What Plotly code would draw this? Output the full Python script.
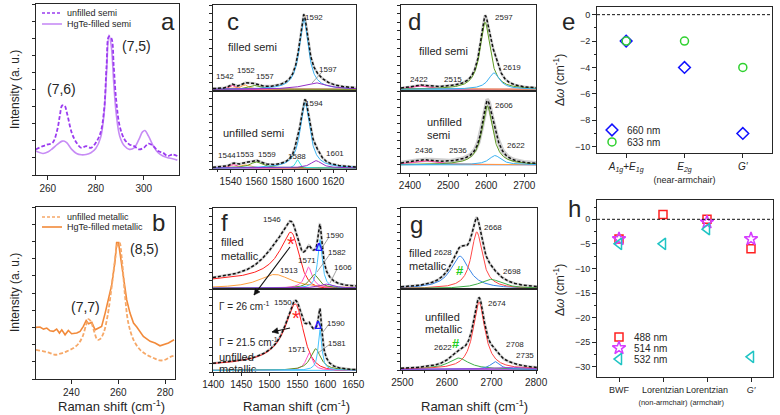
import numpy as np
import plotly.graph_objects as go

W, H = 780, 415
FONT = "Liberation Sans, Arial, sans-serif"
INK = "#262626"

# ---------------- DATA ----------------
# (a) RBM spectra, semiconducting
a_unfilled_x = [255, 258, 260, 262, 264, 265, 266, 267, 268, 270, 272, 274, 276, 278, 280, 282, 283.5, 284.5,
                285.5, 286.5, 287.5, 288.5, 290, 292, 294, 296, 298, 300, 302, 304, 306, 308, 310, 312, 314]
a_unfilled_y = [0.150, 0.169, 0.179, 0.188, 0.266, 0.344, 0.406, 0.406, 0.363, 0.247, 0.188, 0.159, 0.169, 0.159,
                0.188, 0.247, 0.383, 0.635, 0.810, 0.800, 0.635, 0.441, 0.285, 0.208, 0.179, 0.169, 0.150, 0.159,
                0.184, 0.169, 0.140, 0.130, 0.111, 0.120, 0.111]
a_filled_x = [255, 258, 260, 262, 264, 266, 267, 268, 270, 272, 274, 276, 278, 280, 282, 283.5, 284.5, 285.5,
              286.5, 287.5, 288.5, 290, 292, 294, 296, 298, 299.5, 300.5, 302, 304, 306, 308, 310, 312, 314]
a_filled_y = [0.140, 0.126, 0.134, 0.155, 0.179, 0.198, 0.198, 0.188, 0.150, 0.126, 0.118, 0.120, 0.130, 0.155,
              0.217, 0.363, 0.596, 0.819, 0.751, 0.538, 0.363, 0.227, 0.169, 0.150, 0.159, 0.208, 0.252, 0.260,
              0.227, 0.169, 0.130, 0.111, 0.101, 0.095, 0.087]

# (b) RBM spectra, metallic
b_filled_x = [224.9, 226.6, 228.1, 229.5, 230.9, 232.3, 233.7, 234.9, 235.9, 237.3, 238.7, 240.1, 242.3, 243.7,
              245.1, 246.3, 247.3, 248.7, 250.1, 251.5, 252.9, 254.4, 255.8, 257.2, 258.6, 259.3, 260.1, 261.1,
              262.2, 263.6, 265.0, 266.5, 267.9, 270.7, 273.6, 275.7, 277.8, 279.3, 281.4, 283.8]
b_filled_y = [0.300, 0.302, 0.290, 0.296, 0.280, 0.277, 0.290, 0.267, 0.286, 0.257, 0.282, 0.263, 0.267, 0.277,
              0.306, 0.340, 0.321, 0.329, 0.286, 0.296, 0.306, 0.383, 0.460, 0.547, 0.683, 0.793, 0.793, 0.702,
              0.576, 0.460, 0.383, 0.325, 0.302, 0.248, 0.219, 0.209, 0.193, 0.199, 0.209, 0.228]
b_unfilled_x = [224.9, 228.1, 230.9, 233.0, 235.2, 238.0, 240.9, 243.0, 244.8, 246.3, 247.3, 248.3, 249.7, 251.1,
                252.2, 253.7, 255.4, 257.2, 258.6, 259.6, 260.5, 261.5, 262.9, 264.3, 266.5, 269.3, 272.1, 275.0,
                277.8, 280.0, 282.1, 283.8]
b_unfilled_y = [0.170, 0.161, 0.151, 0.141, 0.147, 0.161, 0.180, 0.205, 0.248, 0.315, 0.348, 0.335, 0.277, 0.228,
                0.232, 0.267, 0.364, 0.538, 0.692, 0.780, 0.793, 0.702, 0.480, 0.325, 0.228, 0.170, 0.141, 0.122,
                0.108, 0.112, 0.128, 0.135]

# (c) G band, semiconducting: Lorentzian components (centre, FWHM, height)
c_filled_center = [1541, 1551, 1558, 1597, 1606]
c_filled_fwhm = [5, 7, 10, 8.5, 22]
c_filled_height = [0.045, 0.05, 0.045, 0.82, 0.075]
c_filled_labels = ["1542", "1552", "1557", "1592", "1597"]
c_unfilled_center = [1542, 1551, 1560, 1592, 1598, 1606.5]
c_unfilled_fwhm = [6, 8, 12, 3.5, 9, 10]
c_unfilled_height = [0.043, 0.04, 0.077, 0.107, 0.84, 0.094]
c_unfilled_labels = ["1544", "1553", "1559", "1588", "1594", "1601"]

# (d) G' band, semiconducting
d_filled_center = [2424.5, 2515, 2597, 2620.5]
d_filled_fwhm = [50, 100, 32, 36]
d_filled_height = [0.04, 0.012, 0.78, 0.19]
d_filled_labels = ["2422", "2515", "2597", "2619"]
d_unfilled_center = [2435, 2536, 2603, 2623]
d_unfilled_fwhm = [80, 100, 34, 38]
d_unfilled_height = [0.05, 0.015, 0.72, 0.113]
d_unfilled_labels = ["2436", "2536", "2606", "2622"]

# (e) shifts, semiconducting
e_modes = ["<i>A</i><sub><i>1g</i></sub>+<i>E</i><sub><i>1g</i></sub>",
           "<i>E</i><sub><i>2g</i></sub><br><span style='font-size:9px'>(near-armchair)</span>",
           "<i>G\u2032</i>"]
e_660 = [-2, -4, -9]
e_633 = [-2, -2, -4]

# (f) G band, metallic: BWF (centre, Gamma, q, I0) + Lorentzians
f_filled_bwf = [1543.9, 20.5, -3.5, 0.64]
f_filled_center = [1510, 1570, 1580, 1590.5, 1602]
f_filled_fwhm = [70, 16, 20, 10, 30]
f_filled_height = [0.17, 0.26, 0.17, 0.60, 0.05]
f_filled_labels = ["1513", "1571", "1582", "1590", "1606"]
f_unfilled_bwf = [1550, 20, -5, 0.77]
f_unfilled_center = [1571, 1582.7, 1590.5]
f_unfilled_fwhm = [14, 22, 8]
f_unfilled_height = [0.21, 0.26, 0.49]
f_unfilled_labels = ["1571", "1581", "1590"]

# (g) G' band, metallic
g_filled_center = [2629, 2667, 2698]
g_filled_fwhm = [50, 30, 60]
g_filled_height = [0.40, 0.70, 0.115]
g_filled_labels = ["2628", "2668", "2698"]
g_unfilled_center = [2626, 2672, 2708, 2735]
g_unfilled_fwhm = [55, 32, 25, 70]
g_unfilled_height = [0.14, 0.83, 0.095, 0.03]
g_unfilled_labels = ["2622", "2674", "2708", "2735"]

# (h) shifts, metallic
h_modes = ["BWF",
           "Lorentzian<br><span style='font-size:7.5px'>(non-armchair)</span>",
           "Lorentzian<br><span style='font-size:7.5px'>(armchair)</span>",
           "<i>G\u2032</i>"]
h_488 = [-4, 1, 0, -6]
h_514 = [-4, None, -0.6, -4]
h_532 = [-5, -5, -2, -28]

# ---------------- helpers ----------------
def lorentz(x, c, fwhm, h):
    return h / (1.0 + ((x - c) / (fwhm / 2.0)) ** 2)


def bwf(x, c, gamma, q, i0):
    s = (x - c) / gamma
    return i0 * (1 + s / q) ** 2 / (1 + s ** 2)


def xdom(p0, p1):
    return [p0 / W, p1 / W]


def ydom(p0, p1):
    return [1 - p1 / H, 1 - p0 / H]


fig = go.Figure()
layout = dict(template="none", width=W, height=H, autosize=False,
              margin=dict(l=0, r=0, t=0, b=0, pad=0, autoexpand=False), paper_bgcolor="white",
              plot_bgcolor="white", showlegend=False, font=dict(family=FONT, color=INK))
annotations = []
shapes = []


def axname(i, k):
    return f"{k}axis" if i == 1 else f"{k}axis{i}"


def ref(i, k):
    return k if i == 1 else f"{k}{i}"


def set_axes(i, xd, yd, xr, yr, xkw=None, ykw=None):
    base = dict(showline=True, linecolor=INK, linewidth=1, mirror=True, showgrid=False, zeroline=False,
                ticks="outside", ticklen=3, tickcolor=INK, tickwidth=1, automargin=False,
                tickfont=dict(size=10, family=FONT, color=INK))
    xa = dict(base, domain=xd, range=xr, anchor=ref(i, "y"), tickangle=0)
    ya = dict(base, domain=yd, range=yr, anchor=ref(i, "x"))
    if xkw:
        xa.update(xkw)
    if ykw:
        ya.update(ykw)
    layout[axname(i, "x")] = xa
    layout[axname(i, "y")] = ya


def txt(x, y, text, size=8, color=INK, xanchor="center", **kw):
    d = dict(x=x / W, y=1 - y / H, xref="paper", yref="paper", text=text, showarrow=False,
             font=dict(size=size, color=color, family=FONT), xanchor=xanchor, yanchor="middle")
    d.update(kw)
    annotations.append(d)


def seg(x0, y0, x1, y1, color="#8a8a8a", width=0.8, dash="solid"):
    shapes.append(dict(type="line", xref="paper", yref="paper", x0=x0 / W, y0=1 - y0 / H, x1=x1 / W,
                       y1=1 - y1 / H, line=dict(color=color, width=width, dash=dash)))


def arrow(hx, hy, tx, ty):
    shapes.append(dict(type="line", xref="paper", yref="paper", x0=tx / W, y0=1 - ty / H, x1=hx / W,
                       y1=1 - hy / H, line=dict(color="#111111", width=1.1)))
    v = np.array([hx - tx, hy - ty], dtype=float)
    v /= np.hypot(*v)
    n = np.array([-v[1], v[0]])
    p1 = np.array([hx, hy]) - 6 * v + 3 * n
    p2 = np.array([hx, hy]) - 6 * v - 3 * n
    path = (f"M {hx / W},{1 - hy / H} L {p1[0] / W},{1 - p1[1] / H} "
            f"L {p2[0] / W},{1 - p2[1] / H} Z")
    shapes.append(dict(type="path", xref="paper", yref="paper", path=path, fillcolor="#111111",
                       line=dict(color="#111111", width=0.5)))


def add_line(i, x, y, color, width=1.2, dash="solid", shape="linear"):
    fig.add_trace(go.Scatter(x=x, y=y, mode="lines", xaxis=ref(i, "x"), yaxis=ref(i, "y"),
                             line=dict(color=color, width=width, dash=dash, shape=shape),
                             hoverinfo="skip"))


def fitted_half(i, xr, base, centers, fwhms, heights, colors, bwf_par=None, bwf_color=None, gray_w=2.6):
    grid = np.linspace(xr[0], xr[1], 700)
    comps = []
    if bwf_par is not None:
        comps.append((bwf(grid, *bwf_par), bwf_color))
    for c, w, h, col in zip(centers, fwhms, heights, colors):
        comps.append((lorentz(grid, c, w, h), col))
    total = base + sum(cp for cp, _ in comps)
    add_line(i, grid, total, "#cfcfcf", width=gray_w)
    add_line(i, grid, np.full_like(grid, base), colors[-1], width=1.0)
    for cp, col in comps:
        add_line(i, grid, base + cp, col, width=1.0)
    add_line(i, grid, total, "#111111", width=1.5, dash="3px,2px")


PINK, ORANGE, GREEN, BLUE, PURPLE, CYAN = "#ff3d9a", "#ffa040", "#5e9a22", "#3bb2f2", "#9530c8", "#2ee0e0"

# ---------------- panel a ----------------
set_axes(1, xdom(36, 179), ydom(4, 175), [255.1, 314.7], [0, 1],
         xkw=dict(tickvals=[260, 280, 300], ticklen=4),
         ykw=dict(showticklabels=False, dtick=0.1))
add_line(1, a_filled_x, a_filled_y, "#c78cf5", width=1.6, shape="spline")
add_line(1, a_unfilled_x, a_unfilled_y, "#9b3cf0", width=1.8, dash="4px,2px", shape="spline")
txt(62, 89, "(7,6)", size=14)
txt(136, 46, "(7,5)", size=14)
txt(168, 21, "a", size=24)
seg(42, 13, 62, 13, color="#9b3cf0", width=1.6, dash="3px,2px")
seg(42, 24, 62, 24, color="#c78cf5", width=1.6)
txt(65, 13, "unfilled semi", size=9, xanchor="left")
txt(65, 24, "HgTe-filled semi", size=9, xanchor="left")

# ---------------- panel b ----------------
set_axes(2, xdom(36, 175), ydom(207, 379), [224.9, 284.2], [0, 1],
         xkw=dict(tickvals=[240, 260, 280], ticklen=4),
         ykw=dict(showticklabels=False, dtick=0.1))
add_line(2, b_filled_x, b_filled_y, "#f28a3a", width=1.6)
add_line(2, b_unfilled_x, b_unfilled_y, "#f6a868", width=1.8, dash="4px,2px", shape="spline")
txt(85, 307, "(7,7)", size=14)
txt(144, 249, "(8,5)", size=14)
txt(158, 222, "b", size=24)
seg(42, 217, 62, 217, color="#f6a868", width=1.6, dash="3px,2px")
seg(42, 227, 62, 227, color="#f28a3a", width=1.6)
txt(65, 217, "unfilled metallic", size=9, xanchor="left")
txt(65, 227, "HgTe-filled metallic", size=9, xanchor="left")
txt(15, 90, "Intensity (a. u.)", size=12, textangle=-90)
txt(15, 293, "Intensity (a. u.)", size=12, textangle=-90)
txt(112, 406, "Raman shift (cm<sup>-1</sup>)", size=13)

# ---------------- panel c ----------------
c_xr = [1526.2, 1637.7]
hide_x = dict(showticklabels=False, ticks="")
half_y = dict(showticklabels=False, dtick=0.1)
set_axes(3, xdom(213, 356), ydom(5, 91), c_xr, [0, 1], xkw=hide_x, ykw=half_y)
set_axes(4, xdom(213, 356), ydom(91, 169), c_xr, [0, 1],
         xkw=dict(tickvals=[1540, 1560, 1580, 1600, 1620], minor=dict(dtick=10, ticklen=2, ticks="outside")),
         ykw=half_y)
fitted_half(3, c_xr, 0.02, c_filled_center, c_filled_fwhm, c_filled_height,
            [PINK, ORANGE, GREEN, BLUE, PURPLE])
fitted_half(4, c_xr, 0.013, c_unfilled_center, c_unfilled_fwhm, c_unfilled_height,
            [PINK, ORANGE, GREEN, CYAN, BLUE, PURPLE])
for lab, (px, py) in zip(c_filled_labels, [(225, 77), (246, 70), (265, 76), (314, 17), (328, 69)]):
    txt(px, py, lab)
for lab, (px, py) in zip(c_unfilled_labels, [(227, 155), (245, 154), (267, 154), (297, 156), (314, 103), (335, 153)]):
    txt(px, py, lab)
seg(322, 72, 312, 83)
txt(252, 47, "filled semi", size=11)
txt(253, 133, "unfilled semi", size=11)
txt(233, 22, "c", size=24)

# ---------------- panel d ----------------
d_xr = [2376.4, 2730.7]
set_axes(5, xdom(401, 536), ydom(5, 91), d_xr, [0, 1], xkw=hide_x, ykw=half_y)
set_axes(6, xdom(401, 536), ydom(91, 173), d_xr, [0, 1],
         xkw=dict(tickvals=[2400, 2500, 2600, 2700], minor=dict(dtick=50, ticklen=2, ticks="outside")),
         ykw=half_y)
fitted_half(5, d_xr, 0.02, d_filled_center, d_filled_fwhm, d_filled_height, [PINK, ORANGE, GREEN, BLUE])
fitted_half(6, d_xr, 0.10, d_unfilled_center, d_unfilled_fwhm, d_unfilled_height, [PINK, ORANGE, GREEN, BLUE],
            gray_w=4.5)
for lab, (px, py) in zip(d_filled_labels, [(419, 79), (453, 79), (504, 17), (512, 67)]):
    txt(px, py, lab)
for lab, (px, py) in zip(d_unfilled_labels, [(424, 150), (458, 150), (504, 105), (516, 145)]):
    txt(px, py, lab)
txt(443, 51, "filled semi", size=11)
txt(425, 122, "unfilled", size=11, xanchor="left")
txt(425, 135, "semi", size=11, xanchor="left")
txt(414, 22, "d", size=24)

# ---------------- panel e ----------------
set_axes(7, xdom(597, 772), ydom(7, 153), [-0.5, 2.5], [-10.48, 0.58],
         xkw=dict(tickvals=list(range(len(e_modes))), ticktext=e_modes, ticklen=4,
                  tickfont=dict(size=10, family=FONT, color=INK)),
         ykw=dict(tickvals=[0, -2, -4, -6, -8, -10], ticklen=4, tickfont=dict(size=9, family=FONT, color=INK),
                  minor=dict(dtick=1, ticklen=2, ticks="outside")))
shapes.append(dict(type="line", xref="x7 domain", yref="y7", x0=0, x1=1, y0=0, y1=0,
                   line=dict(color="#111111", width=1, dash="3px,2px")))
e_x = list(range(len(e_modes)))
fig.add_trace(go.Scatter(x=e_x, y=e_660, mode="markers", xaxis="x7", yaxis="y7",
                         marker=dict(symbol="diamond-open", size=9, color="#1010ff", line=dict(width=1.5))))
fig.add_trace(go.Scatter(x=e_x, y=e_633, mode="markers", xaxis="x7", yaxis="y7",
                         marker=dict(symbol="circle-open", size=8, color="#2fd12f", line=dict(width=1.5))))
fig.add_trace(go.Scatter(x=[-0.243], y=[-8.74], mode="markers", xaxis="x7", yaxis="y7",
                         marker=dict(symbol="diamond-open", size=9, color="#1010ff", line=dict(width=1.5))))
fig.add_trace(go.Scatter(x=[-0.243], y=[-9.64], mode="markers", xaxis="x7", yaxis="y7",
                         marker=dict(symbol="circle-open", size=8, color="#2fd12f", line=dict(width=1.5))))
txt(625, 130, "660 nm", size=10, xanchor="left")
txt(625, 142, "633 nm", size=10, xanchor="left")
txt(559, 80, "\u0394<i>\u03c9</i> (cm<sup>-1</sup>)", size=12, textangle=-90)
txt(568, 21, "e", size=24)

# ---------------- panel f ----------------
f_xr = [1399.5, 1654.8]
set_axes(8, xdom(213, 356), ydom(208, 289), f_xr, [0, 1], xkw=hide_x, ykw=half_y)
set_axes(9, xdom(213, 356), ydom(289, 372), f_xr, [0, 1],
         xkw=dict(tickvals=[1400, 1450, 1500, 1550, 1600, 1650]), ykw=half_y)
fitted_half(8, f_xr, 0.01, f_filled_center, f_filled_fwhm, f_filled_height,
            [ORANGE, "#ff55c8", "#5f8f20", "#45c4ff", PURPLE], bwf_par=f_filled_bwf, bwf_color="#ff2020")
fitted_half(9, f_xr, 0.02, f_unfilled_center, f_unfilled_fwhm, f_unfilled_height,
            ["#ff55c8", "#5f8f20", "#45c4ff"], bwf_par=f_unfilled_bwf, bwf_color="#ff2020")
for lab, (px, py) in zip(f_filled_labels, [(289, 270), (307, 260), (337, 252), (335, 235), (343, 267)]):
    txt(px, py, lab)
txt(272, 219, "1546")
for lab, (px, py) in zip(f_unfilled_labels, [(297, 349), (337, 343), (336, 323)]):
    txt(px, py, lab)
txt(283, 302, "1550")
seg(329, 237, 322, 248)
seg(330, 254, 317, 272)
seg(337, 269, 330, 283)
seg(329, 324, 323, 332)
seg(330, 344, 318, 353)
txt(219, 242, "filled", size=11, xanchor="left")
txt(219, 256, "metallic", size=11, xanchor="left")
txt(217, 357, "unfilled", size=11, xanchor="left")
txt(217, 369, "metallic", size=11, xanchor="left")
txt(217, 306, "\u0393 = 26 cm<sup>-1</sup>", size=10, xanchor="left")
txt(217, 342, "\u0393 = 21.5 cm<sup>-1</sup>", size=10, xanchor="left")
txt(291, 244, "*", size=20, color="#ff2020")
txt(296, 318, "*", size=20, color="#ff2020")
txt(319, 247, "<b>\u0394</b>", size=11, color="#1a1aff")
txt(318, 325, "<b>\u0394</b>", size=11, color="#1a1aff")
arrow(254, 295, 290, 247)
arrow(272, 332, 290, 328)
txt(225, 222, "f", size=24)
txt(296, 406, "Raman shift (cm<sup>-1</sup>)", size=13)

# ---------------- panel g ----------------
g_xr = [2497, 2802]
set_axes(10, xdom(401, 537), ydom(208, 289), g_xr, [0, 1], xkw=hide_x, ykw=half_y)
set_axes(11, xdom(401, 537), ydom(289, 370), g_xr, [0, 1],
         xkw=dict(tickvals=[2500, 2600, 2700, 2800], minor=dict(dtick=50, ticklen=2, ticks="outside")),
         ykw=half_y)
fitted_half(10, g_xr, 0.005, g_filled_center, g_filled_fwhm, g_filled_height, ["#3a86e8", "#ff4848", "#3fb14a"])
fitted_half(11, g_xr, 0.008, g_unfilled_center, g_unfilled_fwhm, g_unfilled_height,
            ["#3fb14a", "#ff4848", "#3a86e8", "#a046d6"])
for lab, (px, py) in zip(g_filled_labels, [(443, 252), (493, 227), (512, 271)]):
    txt(px, py, lab)
for lab, (px, py) in zip(g_unfilled_labels, [(443, 347), (497, 303), (515, 344), (525, 355)]):
    txt(px, py, lab)
txt(407, 253, "filled", size=11, xanchor="left")
txt(407, 266, "metallic", size=11, xanchor="left")
txt(423, 317, "unfilled", size=11, xanchor="left")
txt(423, 329, "metallic", size=11, xanchor="left")
txt(460, 270, "<b>#</b>", size=13, color="#22cc22")
txt(456, 343, "<b>#</b>", size=13, color="#22cc22")
txt(416, 224, "g", size=24)
txt(475, 406, "Raman shift (cm<sup>-1</sup>)", size=13)

# ---------------- panel h ----------------
set_axes(12, xdom(597, 773), ydom(200, 377), [-0.5, 3.5], [-32.1, 3.93],
         xkw=dict(tickvals=list(range(len(h_modes))), ticktext=h_modes, ticklen=4,
                  tickfont=dict(size=9, family=FONT, color=INK)),
         ykw=dict(tickvals=[0, -5, -10, -15, -20, -25, -30], ticklen=4,
                  tickfont=dict(size=9, family=FONT, color=INK),
                  minor=dict(dtick=2.5, ticklen=2, ticks="outside")))
shapes.append(dict(type="line", xref="x12 domain", yref="y12", x0=0, x1=1, y0=0, y1=0,
                   line=dict(color="#111111", width=1, dash="3px,2px")))
h_x = list(range(len(h_modes)))
h_style = [(h_488, "square-open", 8, "#ff2020"), (h_514, "star-open", 10, "#d63cff"),
           (h_532, "triangle-left-open", 10, "#1fc4c4")]
for vals, sym, sz, col in h_style:
    fig.add_trace(go.Scatter(x=h_x, y=vals, mode="markers", xaxis="x12", yaxis="y12",
                             marker=dict(symbol=sym, size=sz, color=col, line=dict(width=1.5))))
for (vals, sym, sz, col), ly in zip(h_style, [-23.97, -26.2, -28.45]):
    fig.add_trace(go.Scatter(x=[0], y=[ly], mode="markers", xaxis="x12", yaxis="y12",
                             marker=dict(symbol=sym, size=sz, color=col, line=dict(width=1.5))))
txt(632, 337, "488 nm", size=10, xanchor="left")
txt(632, 348, "514 nm", size=10, xanchor="left")
txt(632, 359, "532 nm", size=10, xanchor="left")
txt(559, 290, "\u0394<i>\u03c9</i> (cm<sup>-1</sup>)", size=12, textangle=-90)
txt(574, 208, "h", size=24)

layout["annotations"] = annotations
layout["shapes"] = shapes
fig.update_layout(**layout)
fig.write_html("out.html", config={"displayModeBar": False},
               post_script="document.body.style.margin='0px';document.body.style.padding='0px';"
                           "document.body.style.overflow='hidden';")
